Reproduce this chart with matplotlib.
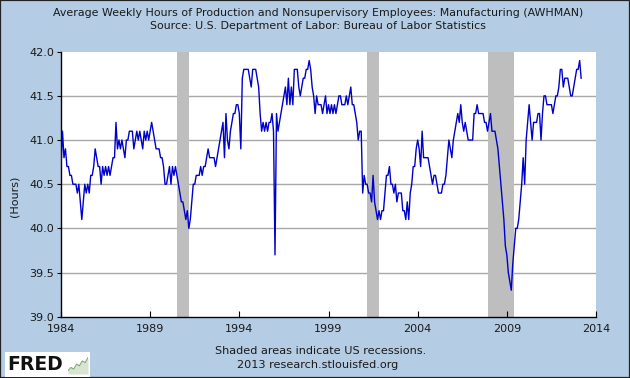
import numpy as np
import matplotlib
matplotlib.use("Agg")
import matplotlib.pyplot as plt

# Monthly values, Jan 1984 .. Mar 2013
hours_by_year = {
    1984: [40.7, 41.1, 40.8, 40.9, 40.7, 40.7, 40.6, 40.6, 40.5, 40.5, 40.5, 40.4],
    1985: [40.5, 40.3, 40.1, 40.3, 40.5, 40.4, 40.5, 40.4, 40.6, 40.6, 40.7, 40.9],
    1986: [40.8, 40.7, 40.7, 40.5, 40.7, 40.6, 40.7, 40.6, 40.7, 40.6, 40.7, 40.8],
    1987: [40.8, 41.2, 40.9, 41.0, 40.9, 41.0, 40.9, 40.8, 41.0, 41.0, 41.1, 41.1],
    1988: [41.1, 40.9, 41.0, 41.1, 41.0, 41.1, 41.0, 40.9, 41.1, 41.0, 41.1, 41.0],
    1989: [41.1, 41.2, 41.1, 41.0, 40.9, 40.9, 40.9, 40.8, 40.8, 40.7, 40.5, 40.5],
    1990: [40.6, 40.7, 40.5, 40.7, 40.6, 40.7, 40.6, 40.5, 40.4, 40.3, 40.3, 40.2],
    1991: [40.1, 40.2, 40.0, 40.1, 40.3, 40.5, 40.5, 40.6, 40.6, 40.6, 40.7, 40.6],
    1992: [40.7, 40.7, 40.8, 40.9, 40.8, 40.8, 40.8, 40.8, 40.7, 40.8, 40.9, 41.0],
    1993: [41.1, 41.2, 40.8, 41.3, 41.0, 40.9, 41.1, 41.2, 41.3, 41.3, 41.4, 41.4],
    1994: [41.3, 40.9, 41.7, 41.8, 41.8, 41.8, 41.8, 41.7, 41.6, 41.8, 41.8, 41.8],
    1995: [41.7, 41.6, 41.3, 41.1, 41.2, 41.1, 41.2, 41.1, 41.2, 41.2, 41.3, 41.1],
    1996: [39.7, 41.3, 41.1, 41.2, 41.3, 41.4, 41.5, 41.6, 41.4, 41.7, 41.4, 41.6],
    1997: [41.4, 41.8, 41.8, 41.8, 41.6, 41.5, 41.6, 41.7, 41.7, 41.8, 41.8, 41.9],
    1998: [41.8, 41.6, 41.5, 41.3, 41.5, 41.4, 41.4, 41.4, 41.3, 41.4, 41.5, 41.3],
    1999: [41.4, 41.3, 41.4, 41.3, 41.4, 41.3, 41.4, 41.5, 41.5, 41.4, 41.4, 41.4],
    2000: [41.5, 41.4, 41.5, 41.6, 41.4, 41.4, 41.3, 41.2, 41.0, 41.1, 41.1, 40.4],
    2001: [40.6, 40.5, 40.5, 40.4, 40.4, 40.3, 40.6, 40.3, 40.2, 40.1, 40.2, 40.1],
    2002: [40.2, 40.2, 40.4, 40.6, 40.6, 40.7, 40.5, 40.5, 40.4, 40.5, 40.3, 40.4],
    2003: [40.4, 40.4, 40.2, 40.2, 40.1, 40.3, 40.1, 40.4, 40.5, 40.7, 40.7, 40.9],
    2004: [41.0, 40.9, 40.7, 41.1, 40.8, 40.8, 40.8, 40.8, 40.7, 40.6, 40.5, 40.6],
    2005: [40.6, 40.5, 40.4, 40.4, 40.4, 40.5, 40.5, 40.6, 40.8, 41.0, 40.9, 40.8],
    2006: [41.0, 41.1, 41.2, 41.3, 41.2, 41.4, 41.2, 41.1, 41.2, 41.1, 41.0, 41.0],
    2007: [41.0, 41.0, 41.3, 41.3, 41.4, 41.3, 41.3, 41.3, 41.3, 41.2, 41.2, 41.1],
    2008: [41.2, 41.3, 41.1, 41.1, 41.1, 41.0, 40.9, 40.7, 40.5, 40.3, 40.1, 39.8],
    2009: [39.7, 39.5, 39.4, 39.3, 39.6, 39.8, 40.0, 40.0, 40.1, 40.3, 40.5, 40.8],
    2010: [40.5, 41.0, 41.2, 41.4, 41.2, 41.0, 41.2, 41.2, 41.2, 41.3, 41.3, 41.0],
    2011: [41.3, 41.5, 41.5, 41.4, 41.4, 41.4, 41.4, 41.3, 41.4, 41.5, 41.5, 41.6],
    2012: [41.8, 41.8, 41.6, 41.7, 41.7, 41.7, 41.6, 41.5, 41.5, 41.6, 41.7, 41.8],
    2013: [41.8, 41.9, 41.7],
}

recession_starts = [1990 + 6/12, 2001 + 2/12, 2007 + 11/12]
recession_ends = [1991 + 2/12, 2001 + 10/12, 2009 + 5/12]

x_ticks = [1984, 1989, 1994, 1999, 2004, 2009, 2014]
y_ticks = [39.0, 39.5, 40.0, 40.5, 41.0, 41.5, 42.0]

title_line1 = "Average Weekly Hours of Production and Nonsupervisory Employees: Manufacturing (AWHMAN)"
title_line2 = "Source: U.S. Department of Labor: Bureau of Labor Statistics"
note_line1 = "Shaded areas indicate US recessions."
note_line2 = "2013 research.stlouisfed.org"

# small decorative logo sparkline (FRED logo icon)
logo_icon = [1, 2, 1.5, 3, 2.5, 4, 3.5, 5]

dates = []
values = []
for yr, vals in hours_by_year.items():
    for i, v in enumerate(vals):
        dates.append(yr + i / 12)
        values.append(v)

BG = "#B4CCE4"
TXT = "#1a1a1a"
plt.rcParams["font.family"] = ["DejaVu Sans"]

fig = plt.figure(figsize=(6.3, 3.78), dpi=100, facecolor=BG)
ax = fig.add_axes([61/630, 1 - 316.7/378, 535/630, 265/378])
ax.set_facecolor("white")

for s, e in zip(recession_starts, recession_ends):
    ax.axvspan(s, e, color="#BEBEBE", lw=0, zorder=1)

for yv in y_ticks[1:-1]:
    ax.axhline(yv, color="#A8A8A8", lw=1.0, zorder=0.5)

ax.plot(dates, values, color="#0000CC", lw=1.0, zorder=3)

ax.set_xlim(1984, 2014)
ax.set_ylim(39.0, 42.0)
ax.set_xticks(x_ticks)
ax.set_xticklabels([str(t) for t in x_ticks])
ax.set_yticks(y_ticks)
ax.set_yticklabels([f"{t:.1f}" for t in y_ticks])
ax.tick_params(axis="x", direction="in", length=4, labelsize=8, pad=5, color="black",
               labelcolor=TXT)
ax.tick_params(axis="y", direction="out", length=3, labelsize=8, pad=2, color="black",
               labelcolor=TXT)
for side in ["top", "right"]:
    ax.spines[side].set_visible(False)
for side in ["left", "bottom"]:
    ax.spines[side].set_color("black")
    ax.spines[side].set_linewidth(1.0)

fig.text(14/630, 1 - 196/378, "(Hours)", rotation=90, ha="center", va="center",
         fontsize=8, color=TXT)

fig.text(318/630, 1 - 13/378, title_line1, ha="center", va="center", fontsize=7.9, color=TXT)
fig.text(318/630, 1 - 26/378, title_line2, ha="center", va="center", fontsize=7.9, color=TXT)
fig.text(321/630, 1 - 351.5/378, note_line1, ha="center", va="center", fontsize=8.1, color=TXT)
fig.text(318/630, 1 - 364.5/378, note_line2, ha="center", va="center", fontsize=8.1, color=TXT)

# FRED logo
logo_bg = plt.Rectangle((5/630, 1 - 377/378), 85/630, 25/378, transform=fig.transFigure,
                        fc="white", ec="none", zorder=5)
fig.patches.append(logo_bg)
fig.text(7/630, 1 - 365/378, "FRED", ha="left", va="center", fontsize=13.5,
         fontweight="bold", color="#111111", zorder=6)
lax = fig.add_axes([68/630, 1 - 374/378, 20/630, 18/378])
lax.set_zorder(7)
lax.patch.set_alpha(0)
lax.fill_between(range(len(logo_icon)), logo_icon, color="#D8E4D0", lw=0)
lax.plot(range(len(logo_icon)), logo_icon, color="#7FA878", lw=0.8)
lax.set_xlim(0, len(logo_icon) - 1)
lax.set_ylim(0, max(logo_icon) * 1.1)
lax.axis("off")

# border
fig.patches.append(plt.Rectangle((0, 0), 1, 1, transform=fig.transFigure,
                                 fill=False, ec="#222222", lw=1.6))

fig.savefig("out.png", dpi=100, facecolor=BG)
